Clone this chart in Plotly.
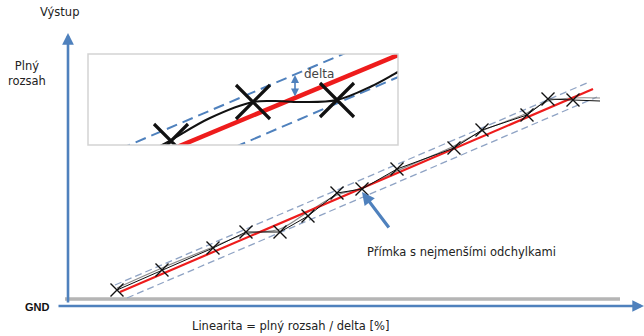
import plotly.graph_objects as go

# Canvas units: x to the right, y downward (0..644 x 0..336)
W, H = 644, 336

# Measured transfer characteristic (main view)
meas_x = [117, 162, 213, 246, 280, 308, 337, 362, 397, 454, 482, 527, 548, 573]
meas_y = [290, 270, 248, 232, 232, 216, 193, 189, 169, 148, 130, 115, 99, 100]
meas_end = (600, 101)
meas_ref_y = [288, 268, 247, 234, 229, 212, 195, 188, 171, 146, 131, 113, 101, 98]

# Best fit line and tolerance band (main view)
fit_x = [120, 593]
fit_y = [292, 89]
band_hi_x = [115, 587]
band_hi_y = [285, 83]
band_lo_x = [127, 597]
band_lo_y = [298, 97]

# Detail view
det_pts_x = [171, 253, 337]
det_pts_y = [141, 102, 100]
det_curve_x = [160, 171, 210, 253, 275, 300, 337, 372, 398, 410]
det_curve_y = [146, 140, 118, 102, 101, 102, 100, 86, 72, 66]
det_fit_x = [170, 410]
det_fit_y = [150, 50]
det_hi_x = [120, 350]
det_hi_y = [149, 51]
det_lo_x = [235, 410]
det_lo_y = [147, 72]
delta_x = 295
delta_y = [75, 98]

box = dict(x0=88, x1=398, y0=54, y1=145)

BLUE = "#4f81bd"
RED = "#ee1c1c"
FONT = "DejaVu Sans"

fig = go.Figure()

# --- main view ---
fig.add_trace(go.Scatter(x=[65, 620], y=[299, 299], mode="lines",
                         line=dict(color="#b5b5b5", width=3.5)))
fig.add_trace(go.Scatter(x=band_hi_x, y=band_hi_y, mode="lines",
                         line=dict(color="#8fa3c4", width=1.3, dash="7px,4px")))
fig.add_trace(go.Scatter(x=band_lo_x, y=band_lo_y, mode="lines",
                         line=dict(color="#8fa3c4", width=1.3, dash="7px,4px")))
fig.add_trace(go.Scatter(x=meas_x + [meas_end[0]], y=meas_ref_y + [meas_end[1] - 3],
                         mode="lines", line=dict(color="#8a8a8a", width=1.2, shape="spline")))
fig.add_trace(go.Scatter(x=fit_x, y=fit_y, mode="lines",
                         line=dict(color=RED, width=2.2)))
fig.add_trace(go.Scatter(x=meas_x + [meas_end[0]], y=meas_y + [meas_end[1]],
                         mode="lines", line=dict(color="#111111", width=1)))
fig.add_trace(go.Scatter(x=meas_x, y=meas_y, mode="markers",
                         marker=dict(symbol="x-thin-open", size=13, color="#111111",
                                     line=dict(color="#111111", width=1.4))))

# --- detail view (clipped to its own axes) ---
ax2 = dict(xaxis="x2", yaxis="y2")
fig.add_trace(go.Scatter(x=det_hi_x, y=det_hi_y, mode="lines",
                         line=dict(color=BLUE, width=2, dash="11px,6px"), **ax2))
fig.add_trace(go.Scatter(x=det_lo_x, y=det_lo_y, mode="lines",
                         line=dict(color=BLUE, width=2, dash="11px,6px"), **ax2))
fig.add_trace(go.Scatter(x=det_fit_x, y=det_fit_y, mode="lines",
                         line=dict(color=RED, width=4.5), **ax2))
fig.add_trace(go.Scatter(x=det_curve_x, y=det_curve_y, mode="lines",
                         line=dict(color="#111111", width=2, shape="spline"), **ax2))
fig.add_trace(go.Scatter(x=det_pts_x, y=det_pts_y, mode="markers",
                         marker=dict(symbol="x-thin-open", size=34, color="#111111",
                                     line=dict(color="#111111", width=3.2)), **ax2))

annotations = []


def arrow(x, y, ax, ay, width, side="end", xref="x", yref="y", size=1.0):
    annotations.append(dict(x=x, y=y, ax=ax, ay=ay, xref=xref, yref=yref,
                            axref=xref, ayref=yref, text="", showarrow=True,
                            arrowhead=2, arrowsize=size, arrowwidth=width,
                            arrowcolor=BLUE, arrowside=side, standoff=0,
                            startstandoff=0, startarrowhead=2, startarrowsize=size))


# axes of the diagram
arrow(68, 33, 68, 304, 2.6, size=0.9)
arrow(644, 306, 57, 306, 2.6, size=0.9)
# pointer to the best fit line
arrow(362, 192, 390, 229, 3.2, size=0.8)
# delta marker in detail view
arrow(delta_x, delta_y[0], delta_x, delta_y[1], 1.6, side="end+start",
      xref="x2", yref="y2", size=1.0)


def label(x, y, text, size=11.5, color="#222222", family=FONT, xanchor="center"):
    annotations.append(dict(x=x, y=y, xref="x", yref="y", text=text,
                            showarrow=False, xanchor=xanchor, yanchor="middle",
                            font=dict(family=family, size=size, color=color)))


label(59, 12, "Výstup")
label(27, 73, "Plný<br>rozsah")
label(37, 307, "<b>GND</b>", size=11, color="#111111", family="Liberation Sans")
label(290, 326, "Linearita = plný rozsah / delta [%]")
label(461, 252, "Přímka s nejmenšími odchylkami")
label(319, 74, "delta", size=12, color="#444444")

fig.update_layout(
    width=W, height=H, margin=dict(l=0, r=0, t=0, b=0),
    paper_bgcolor="white", plot_bgcolor="white", showlegend=False,
    xaxis=dict(range=[0, W], domain=[0, 1], visible=False, fixedrange=True),
    yaxis=dict(range=[H, 0], domain=[0, 1], visible=False, fixedrange=True),
    xaxis2=dict(range=[box["x0"], box["x1"]],
                domain=[box["x0"] / W, box["x1"] / W], visible=False, anchor="y2"),
    yaxis2=dict(range=[box["y1"], box["y0"]],
                domain=[1 - box["y1"] / H, 1 - box["y0"] / H], visible=False, anchor="x2"),
    shapes=[dict(type="rect", xref="x", yref="y", x0=box["x0"], x1=box["x1"],
                 y0=box["y0"], y1=box["y1"], line=dict(color="#d3d3d3", width=1.5),
                 layer="above")],
    annotations=annotations,
)

fig.write_html("out.html")
